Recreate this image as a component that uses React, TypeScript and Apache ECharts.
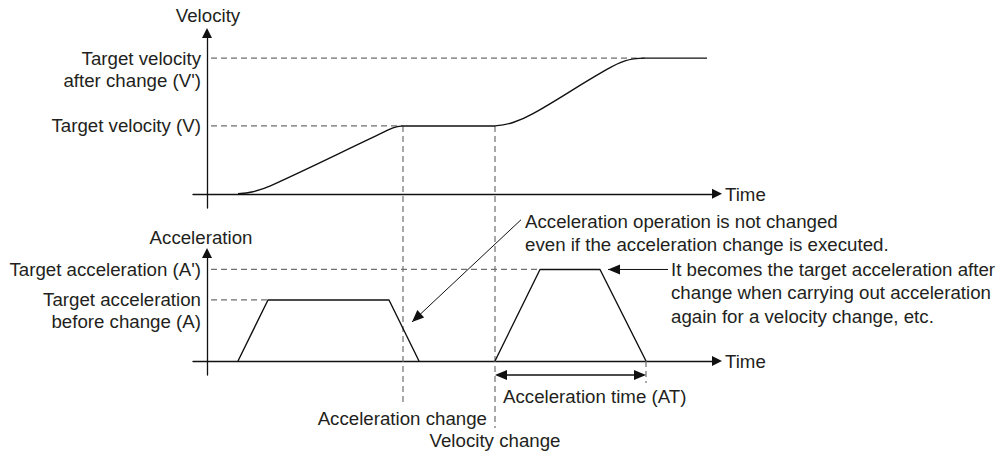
import React, { useEffect, useRef } from "react";
import * as echarts from "echarts";

const FONT = '"Liberation Sans", Arial, sans-serif';
const TEXT = "#231f20";
const LINE = "#111";
const DASH = "#6f6f6f";
const FS = 18.7;

// Time axis (arbitrary units) and value ranges
const timeRange = [-1.4, 51.0];
const velocityRange = [-0.21, 2.37];
const accelRange = [-0.23, 1.77];

// Key times
const accelChangeT = 19.6;
const velocityChangeT = 28.8;
const accelEndT = 43.9;

// Velocity profile
const velocityBefore: [number, number][] = [
  [3.1, 0], [4.6, 0.03], [6.4, 0.12], [17.0, 0.86], [18.6, 0.97], [19.6, 1.0],
];
const velocityFlat: [number, number][] = [[19.6, 1.0], [28.8, 1.0]];
const velocityAfter: [number, number][] = [
  [28.8, 1.0], [30.6, 1.05], [32.6, 1.18], [39.6, 1.8], [41.8, 1.96], [43.8, 2.0],
];
const velocityEnd: [number, number][] = [[43.8, 2.0], [50.0, 2.0]];

// Acceleration profile
const accelBefore: [number, number][] = [[3.1, 0], [6.1, 1], [18.2, 1], [21.2, 0]];
const accelAfter: [number, number][] = [[28.8, 0], [33.3, 1.5], [39.3, 1.5], [43.9, 0]];

// Tick labels
const velocityTicks = [
  { value: 1, lines: ["Target velocity (V)"], reachT: 19.6 },
  { value: 2, lines: ["Target velocity", "after change (V')"], reachT: 43.8 },
];
const accelTicks = [
  { value: 1.5, lines: ["Target acceleration (A')"], reachT: 33.3 },
  { value: 1, lines: ["Target acceleration", "before change (A)"], reachT: 6.1 },
];
const axisNames = { velocity: "Velocity", accel: "Acceleration", time: "Time" };
const note1 = ["Acceleration operation is not changed", "even if the acceleration change is executed."];
const note2 = [
  "It becomes the target acceleration after",
  "change when carrying out acceleration",
  "again for a velocity change, etc.",
];
const atLabel = "Acceleration time (AT)";
const accelChangeLabel = "Acceleration change";
const velocityChangeLabel = "Velocity change";

export default function App() {
  const ref = useRef<HTMLDivElement>(null);
  useEffect(() => {
    if (!ref.current) return;
    const chart = echarts.init(ref.current, undefined, { renderer: "svg" });
    const axisCommon = {
      type: "value" as const,
      axisLabel: { show: false },
      axisTick: { show: false },
      splitLine: { show: false },
    };
    const xAxisLine = {
      show: true,
      onZero: true,
      symbol: ["none", "triangle"],
      symbolSize: [10, 10],
      lineStyle: { color: LINE, width: 1.3 },
    };
    const yAxisLine = { ...xAxisLine };
    const lineSeries = (data: [number, number][], grid: number, smooth: boolean) => ({
      type: "line",
      xAxisIndex: grid,
      yAxisIndex: grid,
      data,
      showSymbol: false,
      symbol: "none",
      smooth: smooth ? 0.4 : false,
      lineStyle: { color: LINE, width: 1.4 },
      z: 5,
    });
    chart.setOption({
      animation: false,
      grid: [
        { left: 193, width: 524, top: 33, height: 175 },
        { left: 193, width: 524, top: 253, height: 122 },
      ],
      xAxis: [
        { ...axisCommon, gridIndex: 0, min: timeRange[0], max: timeRange[1], axisLine: xAxisLine },
        { ...axisCommon, gridIndex: 1, min: timeRange[0], max: timeRange[1], axisLine: xAxisLine },
      ],
      yAxis: [
        { ...axisCommon, gridIndex: 0, min: velocityRange[0], max: velocityRange[1], axisLine: yAxisLine },
        { ...axisCommon, gridIndex: 1, min: accelRange[0], max: accelRange[1], axisLine: yAxisLine },
      ],
      series: [
        lineSeries(velocityBefore, 0, true),
        lineSeries(velocityFlat, 0, false),
        lineSeries(velocityAfter, 0, true),
        lineSeries(velocityEnd, 0, false),
        lineSeries(accelBefore, 1, false),
        lineSeries(accelAfter, 1, false),
      ],
    });

    const px = (g: number, t: number, v: number) =>
      chart.convertToPixel({ gridIndex: g }, [t, v]) as number[];
    const X = (t: number) => px(0, t, 0)[0];
    const VY = (v: number) => px(0, 0, v)[1];
    const AY = (a: number) => px(1, 0, a)[1];
    const x0 = X(0);
    const vBase = VY(0);
    const aBase = AY(0);
    const xEnd = X(timeRange[1]);

    const g: any[] = [];
    const txt = (text: string, x: number, y: number, align = "left") =>
      g.push({
        type: "text",
        x,
        y,
        z: 10,
        style: { text, x: 0, y: 0, fontSize: FS, fontFamily: FONT, fill: TEXT, align, verticalAlign: "middle" },
      });
    const dashed = (x1: number, y1: number, x2: number, y2: number) =>
      g.push({
        type: "line",
        z: 3,
        shape: { x1, y1, x2, y2 },
        style: { stroke: DASH, lineWidth: 1.2, lineDash: [6, 4] },
      });
    const solid = (x1: number, y1: number, x2: number, y2: number, w = 1) =>
      g.push({ type: "line", z: 6, shape: { x1, y1, x2, y2 }, style: { stroke: LINE, lineWidth: w } });
    const head = (tx: number, ty: number, fx: number, fy: number, len = 12, half = 5) => {
      const dx = tx - fx;
      const dy = ty - fy;
      const d = Math.hypot(dx, dy);
      const ux = dx / d;
      const uy = dy / d;
      const bx = tx - ux * len;
      const by = ty - uy * len;
      g.push({
        type: "polygon",
        z: 7,
        shape: { points: [[tx, ty], [bx - uy * half, by + ux * half], [bx + uy * half, by - ux * half]] },
        style: { fill: LINE },
      });
    };

    // axis names
    txt(axisNames.velocity, x0 + 1, VY(velocityRange[1]) - 18, "center");
    txt(axisNames.accel, x0 - 6, AY(accelRange[1]) - 16, "center");
    txt(axisNames.time, xEnd + 8, vBase + 1);
    txt(axisNames.time, xEnd + 8, aBase + 1);

    // tick labels + dashed guides
    velocityTicks.forEach((tk) => {
      const y = VY(tk.value);
      tk.lines.forEach((l, i) => txt(l, x0 - 6, y + i * 22, "right"));
      dashed(x0 + 4, y, X(tk.reachT), y);
    });
    accelTicks.forEach((tk) => {
      const y = AY(tk.value);
      tk.lines.forEach((l, i) => txt(l, x0 - 6, y + i * 22, "right"));
      dashed(x0 + 4, y, X(tk.reachT), y);
    });

    // vertical guides
    dashed(X(accelChangeT), VY(1), X(accelChangeT), aBase + 44);
    dashed(X(velocityChangeT), VY(1), X(velocityChangeT), aBase + 67);
    dashed(X(accelEndT), aBase, X(accelEndT), aBase + 22);

    // note 1 with arrow
    const n1x = X(velocityChangeT) + 30;
    note1.forEach((l, i) => txt(l, n1x, vBase + 28 + i * 23));
    const a1from = [X(velocityChangeT) + 26, vBase + 26];
    const a1tip = [X(accelChangeT) + 9, AY(1) + 22];
    solid(a1from[0], a1from[1], a1tip[0], a1tip[1]);
    head(a1tip[0], a1tip[1], a1from[0], a1from[1]);

    // note 2 with arrow
    const n2y = AY(1.5);
    const a2tip = [X(39.3) + 8, n2y];
    const a2from = [X(39.3) + 68, n2y];
    solid(a2from[0], a2from[1], a2tip[0], a2tip[1]);
    head(a2tip[0], a2tip[1], a2from[0], a2from[1]);
    note2.forEach((l, i) => txt(l, a2from[0] + 3, n2y + i * 23.5));

    // acceleration time double arrow
    const dy = aBase + 14;
    const ax1 = X(velocityChangeT);
    const ax2 = X(accelEndT);
    solid(ax1 + 4, dy, ax2 - 4, dy, 1.4);
    head(ax1, dy, ax2, dy);
    head(ax2, dy, ax1, dy);
    txt(atLabel, ax1 + 8, aBase + 36);

    txt(accelChangeLabel, X(velocityChangeT) - 8, aBase + 58, "right");
    txt(velocityChangeLabel, X(velocityChangeT), aBase + 80, "center");

    chart.setOption({ graphic: g });
    return () => chart.dispose();
  }, []);
  return (
    <div
      ref={ref}
      style={{ position: "fixed", left: 0, top: 0, width: 997, height: 453, background: "#fff" }}
    />
  );
}
